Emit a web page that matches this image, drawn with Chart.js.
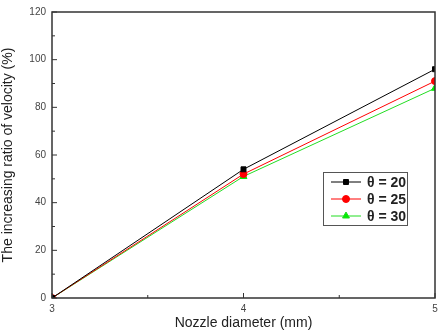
<!DOCTYPE html>
<html>
<head>
<meta charset="utf-8">
<script src="https://cdn.jsdelivr.net/npm/chart.js@4"></script>
<style>
  html, body { margin: 0; padding: 0; background: #fff; }
  #wrap { width: 439px; height: 332px; }
</style>
</head>
<body>
<div id="wrap"><canvas id="chart" width="439" height="332"></canvas></div>
<script>
// data
const diameters = [3, 4, 5];
const theta20 = [0, 54, 96];
const theta25 = [0, 52, 91];
const theta30 = [0, 51, 88];
const seriesNames = ["\u03b8 = 20", "\u03b8 = 25", "\u03b8 = 30"];

const toPts = vals => diameters.map((d, i) => ({ x: d, y: vals[i] }));
const FONT = "'Liberation Sans', Arial, sans-serif";

// frame, inward ticks and the boxed legend
const framePlugin = {
    id: "frame",
    afterDatasetsDraw(chart) {
        const { ctx, chartArea: a, scales } = chart;
        ctx.save();
        ctx.strokeStyle = "#333";
        ctx.lineWidth = 1.5;
        ctx.strokeRect(a.left, a.top, a.right - a.left, a.bottom - a.top);

        ctx.lineWidth = 1;
        for (let v = 0; v <= 120; v += 10) {
            const y = scales.y.getPixelForValue(v);
            const len = v % 20 === 0 ? 5 : 3;
            ctx.beginPath();
            ctx.moveTo(a.left, y);
            ctx.lineTo(a.left + len, y);
            ctx.stroke();
        }
        for (let v = 3; v <= 5; v += 0.5) {
            const x = scales.x.getPixelForValue(v);
            const len = Number.isInteger(v) ? 5 : 3;
            ctx.beginPath();
            ctx.moveTo(x, a.bottom);
            ctx.lineTo(x, a.bottom - len);
            ctx.stroke();
        }

        // legend box
        const bx = 323, by = 172, bw = 84, bh = 53;
        ctx.fillStyle = "#fff";
        ctx.fillRect(bx, by, bw, bh);
        ctx.strokeStyle = "#555";
        ctx.lineWidth = 1;
        ctx.strokeRect(bx + 0.5, by + 0.5, bw, bh);
        chart.data.datasets.forEach((ds, i) => {
            const y = by + 10 + i * 17;
            ctx.strokeStyle = ds.borderColor;
            ctx.lineWidth = 1;
            ctx.beginPath();
            ctx.moveTo(bx + 8, y);
            ctx.lineTo(bx + 38, y);
            ctx.stroke();
            ctx.fillStyle = ds.backgroundColor;
            Chart.helpers.drawPoint(ctx, {
                pointStyle: ds.pointStyle,
                radius: ds.pointRadius,
                borderWidth: 1
            }, bx + 23, y);
            ctx.fillStyle = "#222";
            ctx.font = "bold 14px " + FONT;
            ctx.textBaseline = "middle";
            ctx.fillText(ds.label, bx + 44, y + 1);
        });
        ctx.restore();
    }
};

const ctx = document.getElementById("chart");
const chart = new Chart(ctx, {
    type: "line",
    data: {
        datasets: [
            { label: seriesNames[0], data: toPts(theta20), borderColor: "#000", backgroundColor: "#000", pointBorderColor: "#000", pointStyle: "rect", pointRadius: 3.5 },
            { label: seriesNames[1], data: toPts(theta25), borderColor: "#f00", backgroundColor: "#f00", pointBorderColor: "#f00", pointStyle: "circle", pointRadius: 3.5 },
            { label: seriesNames[2], data: toPts(theta30), borderColor: "#2d2", backgroundColor: "#0e0", pointBorderColor: "#0e0", pointStyle: "triangle", pointRadius: 4 }
        ]
    },
    options: {
        responsive: false,
        animation: false,
        elements: { line: { borderWidth: 1, tension: 0 }, point: { borderWidth: 1 } },
        layout: { autoPadding: false, padding: { left: 0, right: 4, top: 12, bottom: 0 } },
        plugins: { legend: { display: false }, tooltip: { enabled: false } },
        scales: {
            x: {
                type: "linear", min: 3, max: 5,
                grid: { display: false, drawTicks: false },
                border: { display: false },
                afterFit: s => { s.height = 34; s.paddingRight = 0; s.paddingLeft = 0; },
                ticks: { stepSize: 1, color: "#444", padding: 5, font: { size: 10, family: FONT } },
                title: { display: true, text: "Nozzle diameter (mm)", color: "#222", padding: { top: 0, bottom: 0 }, font: { size: 14, family: FONT } }
            },
            y: {
                min: 0, max: 120,
                grid: { display: false, drawTicks: false },
                border: { display: false },
                afterFit: s => { s.width = 52; s.paddingTop = 0; s.paddingBottom = 0; },
                ticks: { stepSize: 20, color: "#444", padding: 6, font: { size: 10, family: FONT } },
                title: { display: true, text: "The increasing ratio of velocity (%)", color: "#222", padding: { top: 0, bottom: 2 }, font: { size: 14, family: FONT } }
            }
        }
    },
    plugins: [framePlugin]
});
</script>
</body>
</html>
